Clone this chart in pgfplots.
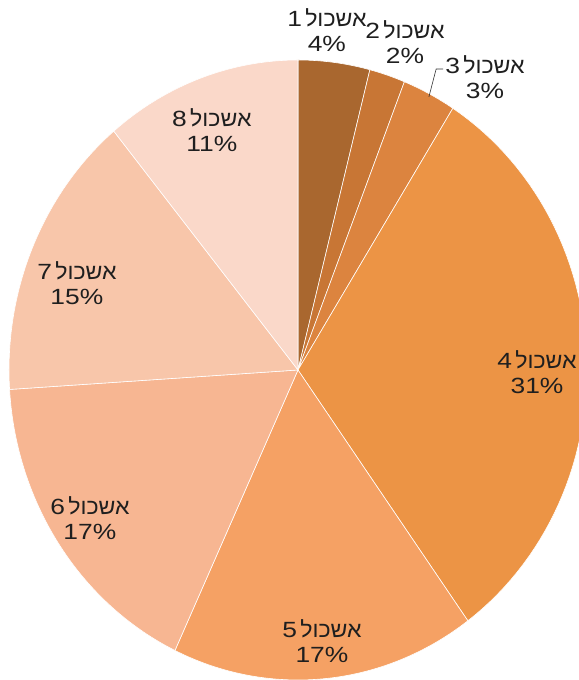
\documentclass[border=0pt]{standalone}
\usepackage{pgfplots}
\pgfplotsset{compat=1.18}
\usepackage{fontspec}
\setmainfont{Liberation Sans}[FakeStretch=1.2]
\newfontfamily\heb[Script=Hebrew,FakeStretch=1.05]{Liberation Sans}
\TeXXeTstate=1
\definecolor{c1}{HTML}{A9672F}
\definecolor{c2}{HTML}{C87635}
\definecolor{c3}{HTML}{DC843F}
\definecolor{c4}{HTML}{EC9445}
\definecolor{c5}{HTML}{F5A164}
\definecolor{c6}{HTML}{F7B692}
\definecolor{c7}{HTML}{F8C6AA}
\definecolor{c8}{HTML}{FAD8C9}
\newcommand{\lab}[2]{\beginR{\heb אשכול}\hspace{0.15em}#1\endR\\#2\%}
\begin{document}
\begin{tikzpicture}
\begin{axis}[
  x=289pt, y=310pt,
  xmin=-1.0311, xmax=0.9723, ymin=-1, ymax=1.1935,
  hide axis, clip=true,
  every axis plot/.append style={draw=white, line width=0.6pt, data cs=polar, samples=60},
]
% slices: 4,2,3,31,17,17,15,11 percent, clockwise from top
\addplot[fill=c1, domain=75.6:90] (x,1) -- (axis cs:0,0) -- cycle;
\addplot[fill=c2, domain=68.4:75.6] (x,1) -- (axis cs:0,0) -- cycle;
\addplot[fill=c3, domain=57.6:68.4] (x,1) -- (axis cs:0,0) -- cycle;
\addplot[fill=c4, domain=-54:57.6] (x,1) -- (axis cs:0,0) -- cycle;
\addplot[fill=c5, domain=-115.2:-54] (x,1) -- (axis cs:0,0) -- cycle;
\addplot[fill=c6, domain=-176.4:-115.2] (x,1) -- (axis cs:0,0) -- cycle;
\addplot[fill=c7, domain=-230.4:-176.4] (x,1) -- (axis cs:0,0) -- cycle;
\addplot[fill=c8, domain=-270:-230.4] (x,1) -- (axis cs:0,0) -- cycle;
\end{axis}
\begin{axis}[
  x=289pt, y=310pt,
  xmin=-1.0311, xmax=0.9723, ymin=-1, ymax=1.1935,
  hide axis, clip=false,
  nodes={align=center, font=\fontsize{22}{25}\selectfont, text=black!88},
]
\draw[black!80, line width=0.6pt] (axis cs:0.453,0.881) -- (axis cs:0.478,0.971) -- (axis cs:0.502,0.971);
\node at (axis cs:0.100,1.097) {\lab{1}{4}};
\node at (axis cs:0.370,1.058) {\lab{2}{2}};
\node at (axis cs:0.647,0.945) {\lab{3}{3}};
\node at (axis cs:0.827,-0.006) {\lab{4}{31}};
\node at (axis cs:0.083,-0.874) {\lab{5}{17}};
\node at (axis cs:-0.720,-0.477) {\lab{6}{17}};
\node at (axis cs:-0.765,0.281) {\lab{7}{15}};
\node at (axis cs:-0.298,0.774) {\lab{8}{11}};
\end{axis}
\pgfresetboundingbox
\path[use as bounding box] (current axis.south west) rectangle (current axis.north east);
\end{tikzpicture}
\end{document}
